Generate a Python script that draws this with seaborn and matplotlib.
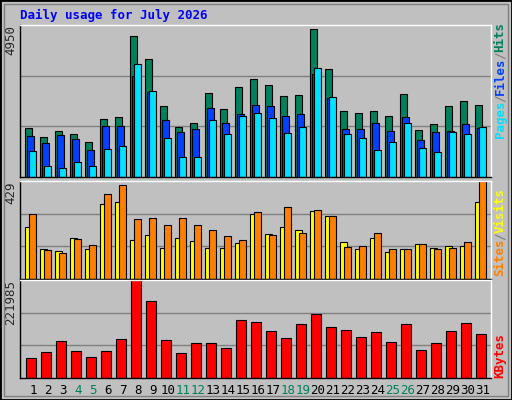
import matplotlib
matplotlib.use('Agg')
import matplotlib.pyplot as plt
import seaborn as sns
from matplotlib.patches import Rectangle

days = list(range(1, 32))
weekend = [4, 5, 11, 12, 18, 19, 25, 26]
hits = [1610, 1316, 1512, 1414, 1153, 1904, 1969, 4580, 3830, 2328, 1643, 1773, 2720, 2230, 2916, 3177,
        2981, 2622, 2655, 4809, 3503, 2165, 2100, 2165, 2002, 2687, 1545, 1741, 2328, 2459, 2361]
files = [1349, 1121, 1382, 1251, 892, 1676, 1676, 3275, 2753, 1871, 1480, 1578, 2263, 1773, 2067, 2361,
         2296, 2002, 2067, 3340, 2557, 1578, 1578, 1773, 1512, 1969, 1219, 1480, 1512, 1741, 1610]
pages = [860, 370, 305, 500, 370, 925, 1023, 3667, 2785, 1284, 664, 664, 1871, 1414, 2002, 2100,
         1937, 1447, 1643, 3536, 2589, 1414, 1284, 892, 1153, 1773, 957, 827, 1480, 1414, 1643]
sites = [228, 133, 124, 180, 133, 328, 336, 172, 194, 137, 180, 167, 137, 137, 159, 284,
         198, 228, 215, 297, 276, 163, 133, 180, 120, 133, 155, 137, 146, 146, 336]
visits = [284, 129, 116, 176, 150, 371, 410, 263, 267, 237, 267, 237, 215, 189, 172, 293,
          194, 315, 202, 302, 276, 142, 146, 202, 133, 133, 155, 133, 137, 163, 429]
kbytes = [46055, 59645, 84560, 61910, 48320, 61910, 89090, 221985, 175160, 86825, 57380, 80030, 80030,
          68705, 132125, 127595, 107210, 91355, 123065, 145715, 116270, 109475, 93620, 104945, 82295,
          123065, 64175, 80030, 107210, 125330, 100415]

sns.set_style('white')
plt.rcParams['font.family'] = ['DejaVu Sans Mono']

bg = '#c0c0c0'
fig = plt.figure(figsize=(5.12, 4.0), dpi=100, facecolor=bg)
W, H = 512, 400
# frame / bevel
fig.patches.append(Rectangle((0, 0), 1, 1, transform=fig.transFigure, fill=False, ec='black', lw=2))
fig.patches.append(Rectangle((4 / W, 4 / H), 1 - 8 / W, 1 - 8 / H, transform=fig.transFigure,
                             fill=False, ec='#808080', lw=1))

x = [d - 1 for d in days]


def make_ax(top, bottom):
    ax = fig.add_axes([20 / W, 1 - bottom / H, 471 / W, (bottom - top) / H])
    ax.set_facecolor(bg)
    ax.set_xlim(0, 31.4)
    ax.set_xticks([])
    for s in ax.spines.values():
        s.set_color('black')
        s.set_linewidth(1)
    ax.spines['top'].set_color('white')
    ax.spines['right'].set_color('white')
    return ax


def grid(ax, vmax):
    ax.set_ylim(0, vmax * 1.0)
    for f in (1 / 3, 2 / 3):
        ax.axhline(vmax * f, color='#808080', lw=1, zorder=0)
    ax.set_yticks([vmax])
    ax.set_yticklabels([str(vmax)], rotation=90, va='top', fontsize=9)
    ax.tick_params(axis='y', length=0, pad=2)


ax1 = make_ax(25, 177)
grid(ax1, 4950)
ax1.bar([i + 0.35 for i in x], hits, width=0.47, align='edge', color='#00805c', ec='black', lw=0.8)
ax1.bar([i + 0.48 for i in x], files, width=0.47, align='edge', color='#0040ff', ec='black', lw=0.8)
ax1.bar([i + 0.62 for i in x], pages, width=0.47, align='edge', color='#00e0ff', ec='black', lw=0.8)

ax2 = make_ax(181, 279)
grid(ax2, 429)
ax2.bar([i + 0.35 for i in x], sites, width=0.47, align='edge', color='#ffff00', ec='black', lw=0.8)
ax2.bar([i + 0.62 for i in x], visits, width=0.47, align='edge', color='#ff8000', ec='black', lw=0.8)

ax3 = make_ax(280, 378)
grid(ax3, 221985)
ax3.bar([i + 0.4 for i in x], kbytes, width=0.69, align='edge', color='#ff0000', ec='black', lw=0.8)
ax3.set_xticks([i + 0.87 for i in x])
ax3.set_xticklabels([str(d) for d in days], fontsize=9)
ax3.tick_params(axis='x', length=0, pad=4)
for lab, d in zip(ax3.get_xticklabels(), days):
    lab.set_color('#00805c' if d in weekend else 'black')

fig.text(20 / W, 1 - 15 / H, 'Daily usage for July 2026', color='#0000ff', fontsize=9,
         fontweight='bold', va='center')


def side(ypix, parts):
    # parts listed bottom to top
    y = ypix
    for txt, col in parts:
        t = fig.text(500 / W, 1 - y / H, txt, color=col, fontsize=9, fontweight='bold',
                     rotation=90, ha='center', va='bottom')
        y -= len(txt) * 7.2


side(138, [('Pages', '#00e0ff'), ('/', '#808080'), ('Files', '#0040ff'), ('/', '#808080'), ('Hits', '#00805c')])
side(276, [('Sites', '#ff8000'), ('/', '#808080'), ('Visits', '#ffff00')])
side(378, [('KBytes', '#ff0000')])

plt.savefig('out.png', dpi=100, facecolor=bg)
